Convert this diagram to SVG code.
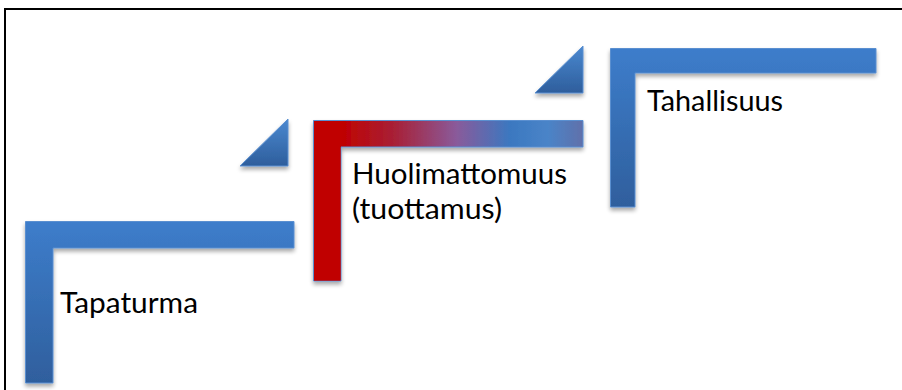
<svg xmlns="http://www.w3.org/2000/svg" width="902" height="390" viewBox="0 0 902 390">
<style>
.lbl{font-family:Lato,"Open Sans","Liberation Sans",sans-serif;font-size:29px;fill:#000}
.blue{fill:url(#gBlue);stroke:#5a8fd0;stroke-width:1}
.tri{fill:url(#gTri);stroke:#5a8fd0;stroke-width:1}
</style>
<defs>
<linearGradient id="gBlue" x1="0" y1="0" x2="0" y2="1">
<stop offset="0" stop-color="#3d7dcb"/>
<stop offset="1" stop-color="#2f5f9d"/>
</linearGradient>
<linearGradient id="gTri" x1="0" y1="0" x2="0" y2="1">
<stop offset="0" stop-color="#4a88d0"/>
<stop offset="1" stop-color="#2e5e9c"/>
</linearGradient>
<linearGradient id="gRed" x1="313" y1="0" x2="583" y2="0" gradientUnits="userSpaceOnUse">
<stop offset="0" stop-color="#c00000"/>
<stop offset="0.1" stop-color="#c00000"/>
<stop offset="0.3" stop-color="#a82036"/>
<stop offset="0.53" stop-color="#8a5a9a"/>
<stop offset="0.73" stop-color="#3b78c0"/>
<stop offset="0.87" stop-color="#4a84c8"/>
<stop offset="1" stop-color="#6070aa"/>
</linearGradient>
<filter id="sh" x="-10%" y="-10%" width="130%" height="130%">
<feGaussianBlur in="SourceAlpha" stdDeviation="2"/>
<feOffset dx="0" dy="3" result="b"/>
<feComponentTransfer><feFuncA type="linear" slope="0.35"/></feComponentTransfer>
<feMerge><feMergeNode/><feMergeNode in="SourceGraphic"/></feMerge>
</filter>
</defs>
<rect width="902" height="390" fill="#fff"/>
<path d="M5 390 V9 H902" fill="none" stroke="#000" stroke-width="2"/>
<g id="step1">
<path class="blue" filter="url(#sh)" d="M25.5 221.5 H294 V248 H53 V383 H25.5 Z"/>
<text class="lbl" x="60" y="313" textLength="138" lengthAdjust="spacingAndGlyphs">Tapaturma</text>
</g>
<g id="arrow1">
<path class="tri" filter="url(#sh)" d="M288 119 V166 H240 Z"/>
</g>
<g id="step2">
<g filter="url(#sh)">
<path d="M313.5 120.5 H583 V147 H341 V281 H313.5 Z" fill="url(#gRed)" stroke="#5a8fd0" stroke-width="1"/>
<rect x="314" y="121" width="26.5" height="159.5" fill="#c00000"/>
</g>
<text class="lbl" x="352" y="184" textLength="215" lengthAdjust="spacingAndGlyphs">Huolimattomuus</text>
<text class="lbl" x="352" y="219" textLength="150" lengthAdjust="spacingAndGlyphs">(tuottamus)</text>
</g>
<g id="arrow2">
<path class="tri" filter="url(#sh)" d="M583 46 V93 H535 Z"/>
</g>
<g id="step3">
<path class="blue" filter="url(#sh)" d="M610.5 48.5 H876 V73 H635 V207 H610.5 Z"/>
<text class="lbl" x="647" y="111" textLength="136" lengthAdjust="spacingAndGlyphs">Tahallisuus</text>
</g>
</svg>
